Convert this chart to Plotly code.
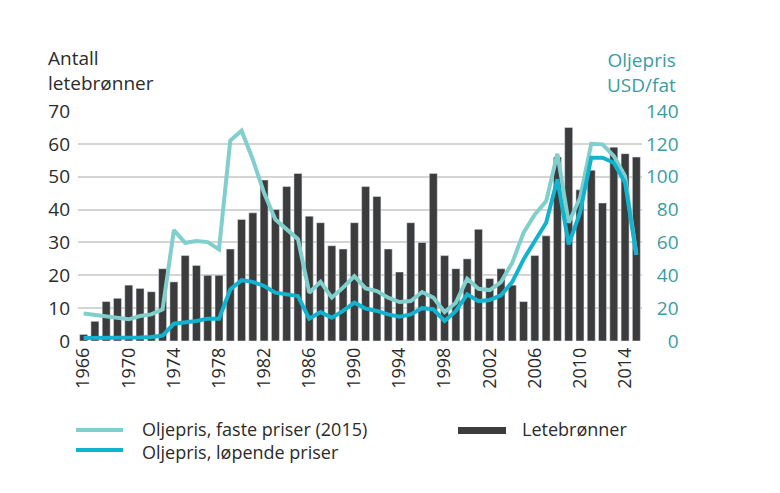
import plotly.graph_objects as go

years = list(range(1966, 2016))
wells = [2, 6, 12, 13, 17, 16, 15, 22, 18, 26,
         23, 20, 20, 28, 37, 39, 49, 40, 47, 51,
         38, 36, 29, 28, 36, 47, 44, 28, 21, 36,
         30, 51, 26, 22, 25, 34, 19, 22, 17, 12,
         26, 32, 56, 65, 46, 52, 42, 59, 57, 56]
oil_fixed = [16.8, 16, 15.2, 14.2, 13.2, 15.2, 16.2, 19.3, 67.5, 59.8,
             60.9, 60.2, 55.8, 122, 128, 110.5, 90, 74, 68, 62,
             29.4, 36, 26.4, 32.5, 39.5, 32, 30.4, 26.4, 23.7, 24.3,
             29.8, 26.4, 17.6, 23.3, 37.9, 31.8, 31, 35.9, 47.7, 66,
             77, 85, 114, 72, 87, 120, 119.7, 112.6, 100.4, 52.7]
oil_nominal = [1.8, 1.8, 1.8, 1.8, 1.8, 2.2, 2.5, 3.3, 10.5, 11.2,
               12.2, 13.6, 13.6, 31.4, 37, 36, 33.5, 29.4, 28.4, 27.4,
               13.6, 17.6, 14.2, 18.3, 23.3, 19.7, 18.3, 16.2, 14.8, 16.2,
               20, 19.3, 12.2, 18.3, 28.4, 24.3, 25, 27.8, 36, 49.7,
               60.9, 72, 98.4, 58.8, 78, 111.6, 111.6, 108.5, 96.3, 52.4]

left_ticks = [0, 10, 20, 30, 40, 50, 60, 70]
right_ticks = [0, 20, 40, 60, 80, 100, 120, 140]
x_ticks = list(range(1966, 2016, 4))

BAR = "#3c3c3c"
LIGHT = "#80cfcc"
DARK = "#13b2cf"
TEAL_TXT = "#3a9ca3"
TXT = "#2b2b2b"
FONT = "Open Sans"

L, R, T, B = 78, 138, 111, 152
W, H = 780, 493

fig = go.Figure()
fig.add_trace(go.Bar(x=years, y=wells, marker_color=BAR, name="Letebrønner",
                     showlegend=False))
fig.add_trace(go.Scatter(x=years, y=oil_fixed, yaxis="y2", mode="lines",
                         line=dict(color=LIGHT, width=4), showlegend=False))
fig.add_trace(go.Scatter(x=years, y=oil_nominal, yaxis="y2", mode="lines",
                         line=dict(color=DARK, width=4), showlegend=False))

right_text = [("\u2007" * (3 - len(str(v)))) + str(v) for v in right_ticks]

fig.update_layout(
    width=W, height=H,
    margin=dict(l=L, r=R, t=T, b=B),
    paper_bgcolor="white", plot_bgcolor="white",
    font=dict(family=FONT, color=TXT, size=19),
    bargap=0.29,
    xaxis=dict(range=[1965.5, 2015.5], tickvals=x_ticks, tickangle=-90,
               showgrid=False, zeroline=False, showline=False, ticks="",
               tickfont=dict(size=18, color=TXT), ticklabelstandoff=2),
    yaxis=dict(range=[0, 70], tickvals=left_ticks, showgrid=True,
               gridcolor="#d4d4d4", gridwidth=2, zeroline=False, ticks="",
               tickfont=dict(size=19, color=TXT), ticklabelstandoff=7),
    yaxis2=dict(range=[0, 140], overlaying="y", side="right",
                tickvals=right_ticks, ticktext=right_text, showgrid=False,
                zeroline=False, ticks="", tickfont=dict(size=19, color=TEAL_TXT),
                ticklabelstandoff=3),
)

def px(x, y):
    return (x - L) / (W - L - R), (H - y - B) / (H - B - T)

annotations = [
    dict(x=46, y=71, text="Antall<br>letebrønner", align="left",
         xanchor="left", yanchor="middle", font=dict(size=19, color=TXT)),
    dict(x=678, y=72, text="Oljepris<br>USD/fat", align="right",
         xanchor="right", yanchor="middle", font=dict(size=19, color=TEAL_TXT)),
    dict(x=140, y=440, text="Oljepris, faste priser (2015)<br>Oljepris, løpende priser",
         align="left", xanchor="left", yanchor="middle", font=dict(size=18, color=TXT)),
    dict(x=520, y=429, text="Letebrønner",
         xanchor="left", yanchor="middle", font=dict(size=18, color=TXT)),
]
for a in annotations:
    a["x"], a["y"] = px(a["x"], a["y"])
    a.update(xref="paper", yref="paper", showarrow=False)
fig.update_layout(annotations=annotations)

shapes = []
for (x0, y0, x1, y1, col) in [(76, 428, 123, 432, LIGHT), (76, 448, 123, 452, DARK),
                               (458, 427, 506, 434, BAR)]:
    a0, b0 = px(x0, y0)
    a1, b1 = px(x1, y1)
    shapes.append(dict(type="rect", xref="paper", yref="paper", x0=a0, x1=a1,
                       y0=b0, y1=b1, fillcolor=col, line=dict(width=0)))
fig.update_layout(shapes=shapes)

fig.write_html("out.html", config={"displayModeBar": False},
               post_script="document.body.style.margin='0';")
